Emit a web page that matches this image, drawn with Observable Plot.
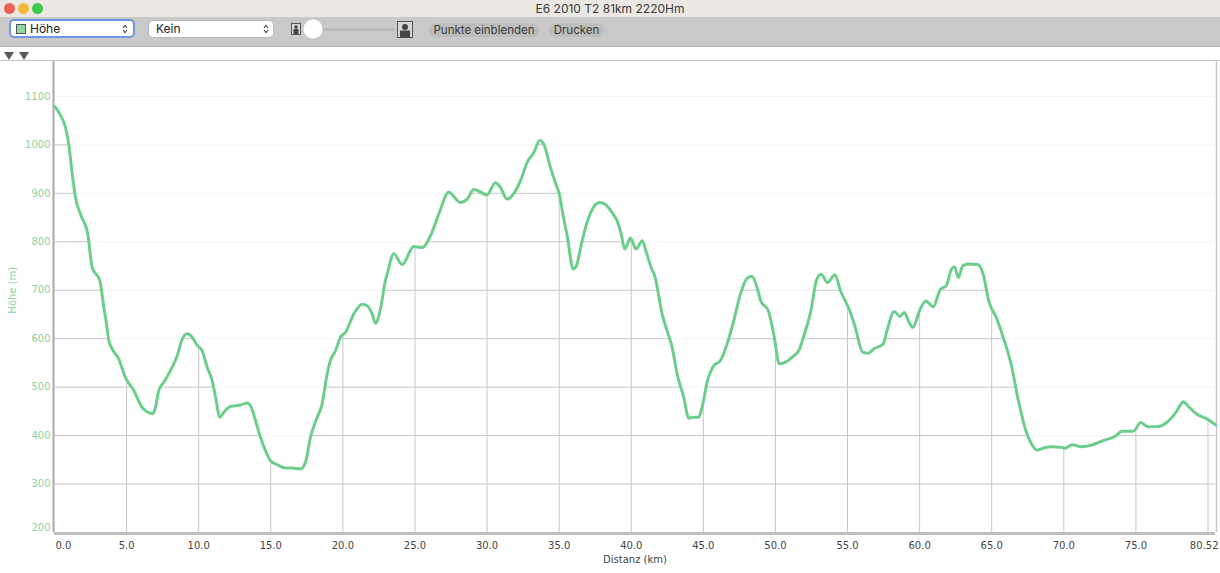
<!DOCTYPE html>
<html><head><meta charset="utf-8">
<script src="https://cdn.jsdelivr.net/npm/d3@7"></script>
<script src="https://cdn.jsdelivr.net/npm/@observablehq/plot@0.6"></script>
<style>
html,body{margin:0;padding:0;background:#fff;width:1220px;height:573px;overflow:hidden;font-family:Inter,"Liberation Sans",sans-serif;}
#titlebar{position:absolute;left:0;top:0;width:1220px;height:17px;background:#ebe7e3;border-bottom:1px solid #cbc7c3;}
.light{position:absolute;top:3px;width:11px;height:11px;border-radius:50%;}
#title{position:absolute;left:0;top:1px;width:1220px;text-align:center;font-size:12px;line-height:15px;color:#3a3a3a;}
#toolbar{position:absolute;left:0;top:18px;width:1220px;height:28px;background:#c9c9c9;border-bottom:1px solid #b6b6b6;}
.sel{position:absolute;background:#fff;font-size:12px;color:#222;}
.btn{position:absolute;top:5px;height:14px;line-height:14px;border-radius:7px;background:#bdbdbd;font-size:11.5px;color:#3c3c3c;text-align:center;}
#strip{position:absolute;left:0;top:47px;width:1220px;height:13px;background:#fff;border-bottom:1px solid #c4c4c4;}
#chart{position:absolute;left:0;top:61px;}
</style></head>
<body>
<div id="titlebar">
  <div class="light" style="left:4px;background:#ee5f57"></div>
  <div class="light" style="left:18px;background:#f4b93c"></div>
  <div class="light" style="left:32px;background:#3fc94a"></div>
  <div id="title">E6 2010 T2 81km 2220Hm</div>
</div>
<div id="toolbar">
  <div class="sel" style="left:9px;top:1px;width:122px;height:15px;border:2px solid #6f95e6;border-radius:5px;">
    <div style="position:absolute;left:5px;top:3px;width:8px;height:8px;background:#8fd89f;border:1px solid #555;"></div>
    <div style="position:absolute;left:19px;top:0;line-height:15px;">Höhe</div>
    <svg style="position:absolute;right:5px;top:3px" width="6" height="10"><path d="M1 4 L3 1.5 L5 4 M1 6 L3 8.5 L5 6" fill="none" stroke="#444" stroke-width="1.1"/></svg>
  </div>
  <div class="sel" style="left:149px;top:3px;width:124px;height:16px;border-radius:4px;box-shadow:0 0 0 0.5px #aaa;">
    <div style="position:absolute;left:7px;top:0;line-height:16px;">Kein</div>
    <svg style="position:absolute;right:4px;top:3px" width="6" height="10"><path d="M1 4 L3 1.5 L5 4 M1 6 L3 8.5 L5 6" fill="none" stroke="#444" stroke-width="1.1"/></svg>
  </div>
  <svg style="position:absolute;left:288px;top:0" width="130" height="28">
    <rect x="3.5" y="5.5" width="9" height="11" fill="#d8d8d8" stroke="#555"/>
    <circle cx="8" cy="9" r="1.8" fill="#444"/><rect x="5.5" y="11" width="5" height="5" fill="#444"/>
    <rect x="30" y="10" width="77" height="3" rx="1.5" fill="#b9b9b9"/>
    <circle cx="25" cy="11" r="10" fill="#fff" stroke="#b0b0b0" stroke-width="0.5"/>
    <rect x="109.5" y="3.5" width="15" height="16" fill="#d8d8d8" stroke="#555"/>
    <circle cx="117" cy="9" r="3" fill="#444"/><rect x="112" y="12.5" width="10" height="7" fill="#444"/>
  </svg>
  <div class="btn" style="left:429px;width:110px;">Punkte einblenden</div>
  <div class="btn" style="left:549px;width:55px;">Drucken</div>
</div>
<div id="strip">
  <svg width="40" height="13"><path d="M4 2 L14 2 L9 10 Z M19 2 L29 2 L24 10 Z" fill="#5a5a5a"/></svg>
</div>
<div id="chart"></div>
<script>
const km = [0,0.4,0.76,0.99,1.23,1.46,1.8,2.31,2.61,3.14,3.42,3.61,3.77,4.0,4.46,4.92,5.5,6.08,6.43,6.78,7.0,7.23,7.58,8.04,8.51,8.86,9.2,9.55,9.9,10.24,10.59,10.94,11.17,11.47,11.74,12.2,12.9,13.36,13.59,13.94,14.29,14.63,14.98,15.44,16.02,16.48,17.06,17.41,17.75,18.22,18.56,18.91,19.14,19.49,19.83,20.18,20.76,21.34,21.68,22.03,22.26,22.6,22.95,23.07,23.53,24.11,24.92,25.5,26.07,26.65,27.34,28.15,28.62,29.08,30.0,30.58,30.93,31.39,31.97,32.32,32.78,33.24,33.66,33.94,34.4,34.86,35.0,35.3,35.56,35.97,36.2,36.59,37.05,37.4,37.82,38.21,38.68,39.02,39.3,39.55,39.94,40.34,40.76,41.05,41.38,41.66,42.14,42.49,42.84,43.18,43.64,43.99,44.34,44.68,44.91,45.26,45.72,46.19,46.65,47.11,47.57,48.04,48.38,48.73,48.98,49.5,49.88,50.27,50.66,51.17,51.68,51.94,52.46,52.84,53.17,53.61,54.13,54.51,55.15,55.54,56.05,56.44,56.83,57.47,57.73,58.24,58.62,58.93,59.27,59.52,60.04,60.42,60.94,61.45,61.84,62.22,62.43,62.68,62.99,63.37,64.02,64.41,64.79,65.31,65.95,66.34,66.85,67.37,67.75,68.14,68.65,69.17,69.81,70.06,70.58,71.22,72.0,72.76,73.53,74.05,74.82,75.33,75.85,76.62,77.13,77.78,78.29,78.68,79.19,79.96,80.52];
const elevation = [1080,1062,1036,1001,940,891,857,816,747,720,665,630,596,579,558,520,493,458,449,445,458,493,510,534,565,599,610,603,586,575,541,513,479,438,448,460,463,467,462,431,396,369,348,340,333,333,331,345,396,438,465,527,555,575,603,613,651,671,668,651,632,660,720,733,775,753,790,788,812,857,902,881,888,908,897,922,912,888,905,926,964,984,1009,1001,953,912,900,850,812,744,751,802,850,872,881,877,860,843,816,785,808,785,802,778,747,726,651,616,582,527,479,436,438,438,458,510,544,555,589,637,692,725,729,705,678,658,610,548,551,562,579,603,658,720,733,716,732,699,658,623,572,570,579,589,616,656,646,654,634,623,661,678,666,702,709,744,748,726,750,754,753,733,678,644,589,548,472,410,383,370,375,377,376,374,381,377,381,390,398,409,409,427,418,419,427,448,470,459,445,434,422];
const xTicks = [0,5,10,15,20,25,30,35,40,45,50,55,60,65,70,75,80.52];
const xTickLabels = ["0.0","5.0","10.0","15.0","20.0","25.0","30.0","35.0","40.0","45.0","50.0","55.0","60.0","65.0","70.0","75.0","80.52"];
const xGrid = [5,10,15,20,25,30,35,40,45,50,55,60,65,70,75,80];
const yTicks = [200,300,400,500,600,700,800,900,1000,1100];
const yTickLabels = ["200","300","400","500","600","700","800","900","1000","1100"];
const xLabel = "Distanz (km)";
const yLabel = "Höhe (m)";

const data = km.map((k, i) => ({km: k, ele: elevation[i]}));
const interp = d3.scaleLinear().domain(km).range(elevation);
const yTop = 1172;
const lineColor = "#6dce8b";
const labelGreen = "#8ad3a0";

const midTicks = xTicks.slice(1, -1).map((v, i) => ({v, t: xTickLabels[i + 1]}));

const chart = Plot.plot({
  width: 1220, height: 512,
  marginLeft: 54, marginRight: 5, marginTop: 0, marginBottom: 41,
  x: {domain: [0, 80.52], axis: null},
  y: {domain: [200, yTop], axis: null},
  style: {fontFamily: "DejaVu Sans", fontSize: "10px", background: "#fff"},
  marks: [
    Plot.ruleY(yTicks.slice(1), {y: d => d, stroke: "#c6c6c6", strokeWidth: 1}),
    Plot.ruleX(xGrid, {x: d => d, y1: 200, y2: d => interp(d), stroke: "#c6c6c6", strokeWidth: 1}),
    Plot.areaY(data, {x: "km", y1: "ele", y2: yTop, fill: "#fff", fillOpacity: 0.8, curve: "monotone-x"}),
    Plot.ruleX([0], {y1: 200, y2: yTop, stroke: "#a9a9a9", strokeWidth: 2, dx: -1}),
    Plot.ruleX([80.52], {y1: 200, y2: yTop, stroke: "#c8c8c8", strokeWidth: 1.5, dx: 1}),
    Plot.ruleY([200], {stroke: "#bdbdbd", strokeWidth: 3, dy: 1}),
    Plot.line(data, {x: "km", y: "ele", stroke: lineColor, strokeWidth: 3, curve: "monotone-x"}),
    Plot.text(yTicks.slice(1), {x: 0, y: d => d, text: (d, i) => yTickLabels[i + 1], textAnchor: "end", dx: -4, fill: labelGreen}),
    Plot.text([yTicks[0]], {x: 0, y: d => d, text: () => yTickLabels[0], textAnchor: "end", dx: -4, dy: -5, fill: labelGreen}),
    Plot.text([yLabel], {x: 0, y: 700, text: d => d, rotate: -90, dx: -42, fill: labelGreen}),
    Plot.text([xTicks[0]], {x: d => d, y: 200, text: () => xTickLabels[0], textAnchor: "start", dx: 1, dy: 13, fill: "#444"}),
    Plot.text(midTicks, {x: "v", y: 200, text: "t", dy: 13, fill: "#444"}),
    Plot.text([xTicks[xTicks.length - 1]], {x: d => d, y: 200, text: () => xTickLabels[xTickLabels.length - 1], textAnchor: "end", dx: 3, dy: 13, fill: "#444"}),
    Plot.text([xLabel], {frameAnchor: "bottom", text: d => d, dy: 30, fill: "#444"})
  ]
});
document.getElementById("chart").appendChild(chart);
</script>
</body></html>
